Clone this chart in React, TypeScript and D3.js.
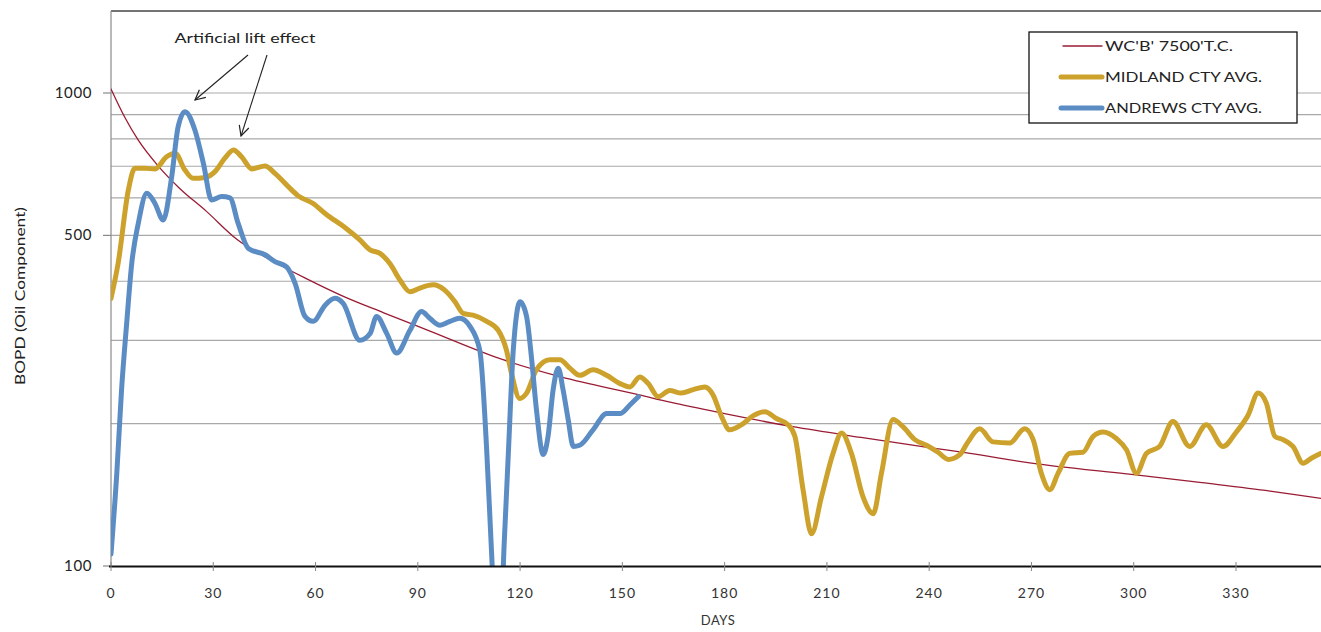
import React from 'react';
import { scaleLinear, scaleLog, line, curveMonotoneX } from 'd3';

// type curve (thin red)
const tcDays = [0, 4, 8, 14, 20, 28, 37, 47, 57, 68, 80, 93, 115, 132, 155, 164, 180, 200, 220, 240, 252, 270, 300, 320, 340, 355, 365];
const tcRate = [1020, 890, 795, 699, 630, 562, 490, 443, 406, 372, 343, 315, 273, 251, 230, 222, 210, 197, 187, 178, 173, 165, 156, 150, 144, 139, 136];

// Midland county average
const midDays = [0, 2.1, 5.1, 7, 10, 12.9, 16.3, 18.8, 21.7, 24.1, 27.6, 30.5, 33.4, 35.9, 38.3, 41.3, 45.2, 48.1, 52, 54.9, 59.3, 63, 69, 73, 76, 78.9, 81.8, 84.8, 87.7, 90.6, 94.5, 97.9, 100.9, 103.3, 106.2, 110.2, 113.6, 116, 117.5, 119.9, 121.9, 124.8, 128.7, 131.7, 134.6, 137.5, 141.4, 145.4, 149.3, 152.2, 155.1, 157.6, 160.5, 163.9, 167.3, 170.8, 174.2, 176.6, 179.1, 181.5, 185, 188.4, 191.8, 195.2, 198.6, 200.6, 203, 205.5, 208.4, 211.8, 214.3, 217.2, 220.6, 223.6, 226, 229.4, 232.3, 235.8, 239.2, 242.6, 245.6, 249, 251.4, 254.8, 258.7, 263.6, 268, 270.5, 272.9, 275.4, 277.8, 281.2, 285.1, 288.1, 291, 294.9, 297.9, 300.8, 303.7, 307.6, 311.5, 316.4, 321.3, 326.2, 330.1, 333.5, 336.5, 338.9, 341.4, 343.8, 346.7, 349.7, 352.1, 354.8];
const midRate = [368, 437, 624, 693, 693, 691, 733, 746, 687, 660, 663, 682, 728, 758, 733, 691, 701, 676, 634, 606, 584, 555, 517, 489, 466, 458, 436, 402, 380, 387, 393, 383, 362, 342, 339, 329, 315, 286, 255, 226, 232, 260, 273, 273, 262, 253, 260, 253, 243, 239, 251, 243, 228, 235, 232, 236, 239, 230, 207, 194, 199, 208, 212, 205, 199, 188, 145, 117, 140, 173, 191, 173, 140, 129, 157, 204, 197, 185, 180, 174, 168, 172, 183, 195, 183, 182, 195, 185, 157, 145, 157, 173, 174, 188, 192, 186, 176, 157, 173, 179, 202, 179, 199, 179, 192, 208, 232, 221, 188, 185, 179, 165, 169, 173];

// Andrews county average
const andDays = [0, 1.7, 3.1, 4.6, 6.1, 8, 10.5, 12.9, 15.3, 17.8, 19.7, 21.7, 24.6, 27.1, 29.5, 32.5, 34.9, 37.3, 40.3, 45.2, 48.1, 51.5, 54, 56.9, 59.3, 62.8, 65.7, 68.1, 73, 76, 77.9, 80.9, 83.8, 87.7, 91.1, 93.5, 96.5, 99.4, 102.3, 105.3, 108.2, 110.2, 111.6, 112.8, 114.3, 115.3, 116.6, 118, 120, 121.9, 123.4, 124.8, 126.8, 128.2, 129.7, 131.2, 132.6, 134.1, 135.6, 137.5, 141.4, 145.4, 149.3, 152.2, 154.7];
const andRate = [106, 157, 236, 326, 437, 530, 614, 584, 539, 665, 849, 913, 835, 710, 594, 604, 600, 530, 469, 455, 440, 429, 396, 337, 329, 356, 368, 359, 300, 310, 337, 310, 282, 315, 345, 334, 323, 329, 334, 321, 285, 176, 108, 75, 75, 110, 176, 286, 362, 337, 273, 214, 172, 188, 236, 262, 236, 204, 179, 180, 194, 210, 210, 219, 228];

const xTicks = [0, 30, 60, 90, 120, 150, 180, 210, 240, 270, 300, 330];
const yGrid = [200, 300, 400, 500, 600, 700, 800, 900, 1000];
const yLabels = [100, 500, 1000];

const seriesNames = ["WC'B' 7500'T.C.", 'MIDLAND CTY AVG.', 'ANDREWS CTY AVG.'];
const seriesColors = ['#9a1c34', '#cda22c', '#5b8dc4'];
const seriesWidths = [1.3, 5, 5];

const W = 1321;
const H = 632;
const left = 111;
const top = 11;
const bottom = 566;
const font = 'Lato, "Open Sans", sans-serif';

export default function App() {
  const x = scaleLinear().domain([0, 330]).range([left, 1236]);
  const y = scaleLog().domain([100, 1000]).range([bottom, 93]);

  const mk = line<[number, number]>()
    .x(d => x(d[0]))
    .y(d => y(d[1]))
    .curve(curveMonotoneX);

  const series = [
    tcDays.map((d, i) => [d, tcRate[i]] as [number, number]),
    midDays.map((d, i) => [d, midRate[i]] as [number, number]),
    andDays.map((d, i) => [d, andRate[i]] as [number, number]),
  ];

  const legX = 1029;
  const legY = 32;
  const legRows = [46, 77, 108];

  return (
    <svg width={W} height={H} style={{ position: 'absolute', left: 0, top: 0, background: '#fff' }} fontFamily={font}>
      <defs>
        <clipPath id="plot">
          <rect x={left} y={top} width={W - left} height={bottom - top} />
        </clipPath>
        <marker id="arr" viewBox="0 0 12 12" refX="11" refY="6" markerWidth="12" markerHeight="12" markerUnits="userSpaceOnUse" orient="auto">
          <path d="M1,1 L11,6 L1,11" fill="none" stroke="#222" strokeWidth={1.2} />
        </marker>
        <filter id="soft" x="-5%" y="-50%" width="110%" height="200%">
          <feGaussianBlur stdDeviation="2" />
        </filter>
      </defs>

      {/* grid */}
      {yGrid.map(v => (
        <line key={v} x1={left} x2={W} y1={y(v)} y2={y(v)} stroke="#a9a9a9" strokeWidth={1.2} />
      ))}
      <line x1={left} x2={W} y1={top} y2={top} stroke="#444" strokeWidth={1.5} />
      <line x1={left} x2={left} y1={top} y2={bottom} stroke="#8a8a8a" strokeWidth={1.2} />

      {/* y ticks + labels */}
      {yLabels.map(v => (
        <g key={v}>
          <line x1={103} x2={left} y1={y(v)} y2={y(v)} stroke="#8a8a8a" strokeWidth={1.2} />
          <text x={92} y={y(v) + 5} textAnchor="end" fontSize={15} letterSpacing={0.6} fill="#222">{v}</text>
        </g>
      ))}

      {/* series */}
      <g clipPath="url(#plot)">
        {series.map((s, i) => (
          <path key={i} d={mk(s) || ''} fill="none" stroke={seriesColors[i]} strokeWidth={seriesWidths[i]} strokeLinejoin="round" strokeLinecap="round" />
        ))}
      </g>

      {/* x axis */}
      <line x1={left} x2={W} y1={bottom + 4} y2={bottom + 4} stroke="#999" strokeWidth={4} filter="url(#soft)" opacity={0.6} />
      <line x1={left - 2} x2={W} y1={bottom + 0.5} y2={bottom + 0.5} stroke="#111" strokeWidth={2} />
      {xTicks.map(t => (
        <g key={t}>
          <line x1={x(t)} x2={x(t)} y1={bottom - 4} y2={bottom + 5} stroke="#888" strokeWidth={1} />
          <text x={x(t)} y={598} textAnchor="middle" fontSize={14} letterSpacing={1} fill="#333">{t}</text>
        </g>
      ))}

      <text x={718} y={625} textAnchor="middle" fontSize={13} letterSpacing={0.5} fill="#333">DAYS</text>
      <text transform="translate(25,296) rotate(-90)" textAnchor="middle" fontSize={14} textLength={178} lengthAdjust="spacingAndGlyphs" fill="#222">BOPD (Oil Component)</text>

      {/* annotation */}
      <text x={245} y={43} textAnchor="middle" fontSize={14} textLength={141} lengthAdjust="spacingAndGlyphs" fill="#222">Artificial lift effect</text>
      <line x1={248} y1={55} x2={195} y2={100} stroke="#222" strokeWidth={1.1} markerEnd="url(#arr)" />
      <line x1={267} y1={55} x2={241} y2={136} stroke="#222" strokeWidth={1.1} markerEnd="url(#arr)" />

      {/* legend */}
      <rect x={legX} y={legY} width={268} height={91} fill="#fff" stroke="#111" strokeWidth={1.3} />
      {seriesNames.map((n, i) => (
        <g key={n}>
          <line x1={i === 0 ? 1063 : 1061} x2={1102} y1={legRows[i]} y2={legRows[i]} stroke={seriesColors[i]} strokeWidth={seriesWidths[i]} strokeLinecap="round" />
          <text x={1105} y={legRows[i] + 5} fontSize={14} textLength={i === 0 ? 128 : 157} lengthAdjust="spacingAndGlyphs" fill="#222">{n}</text>
        </g>
      ))}
    </svg>
  );
}
